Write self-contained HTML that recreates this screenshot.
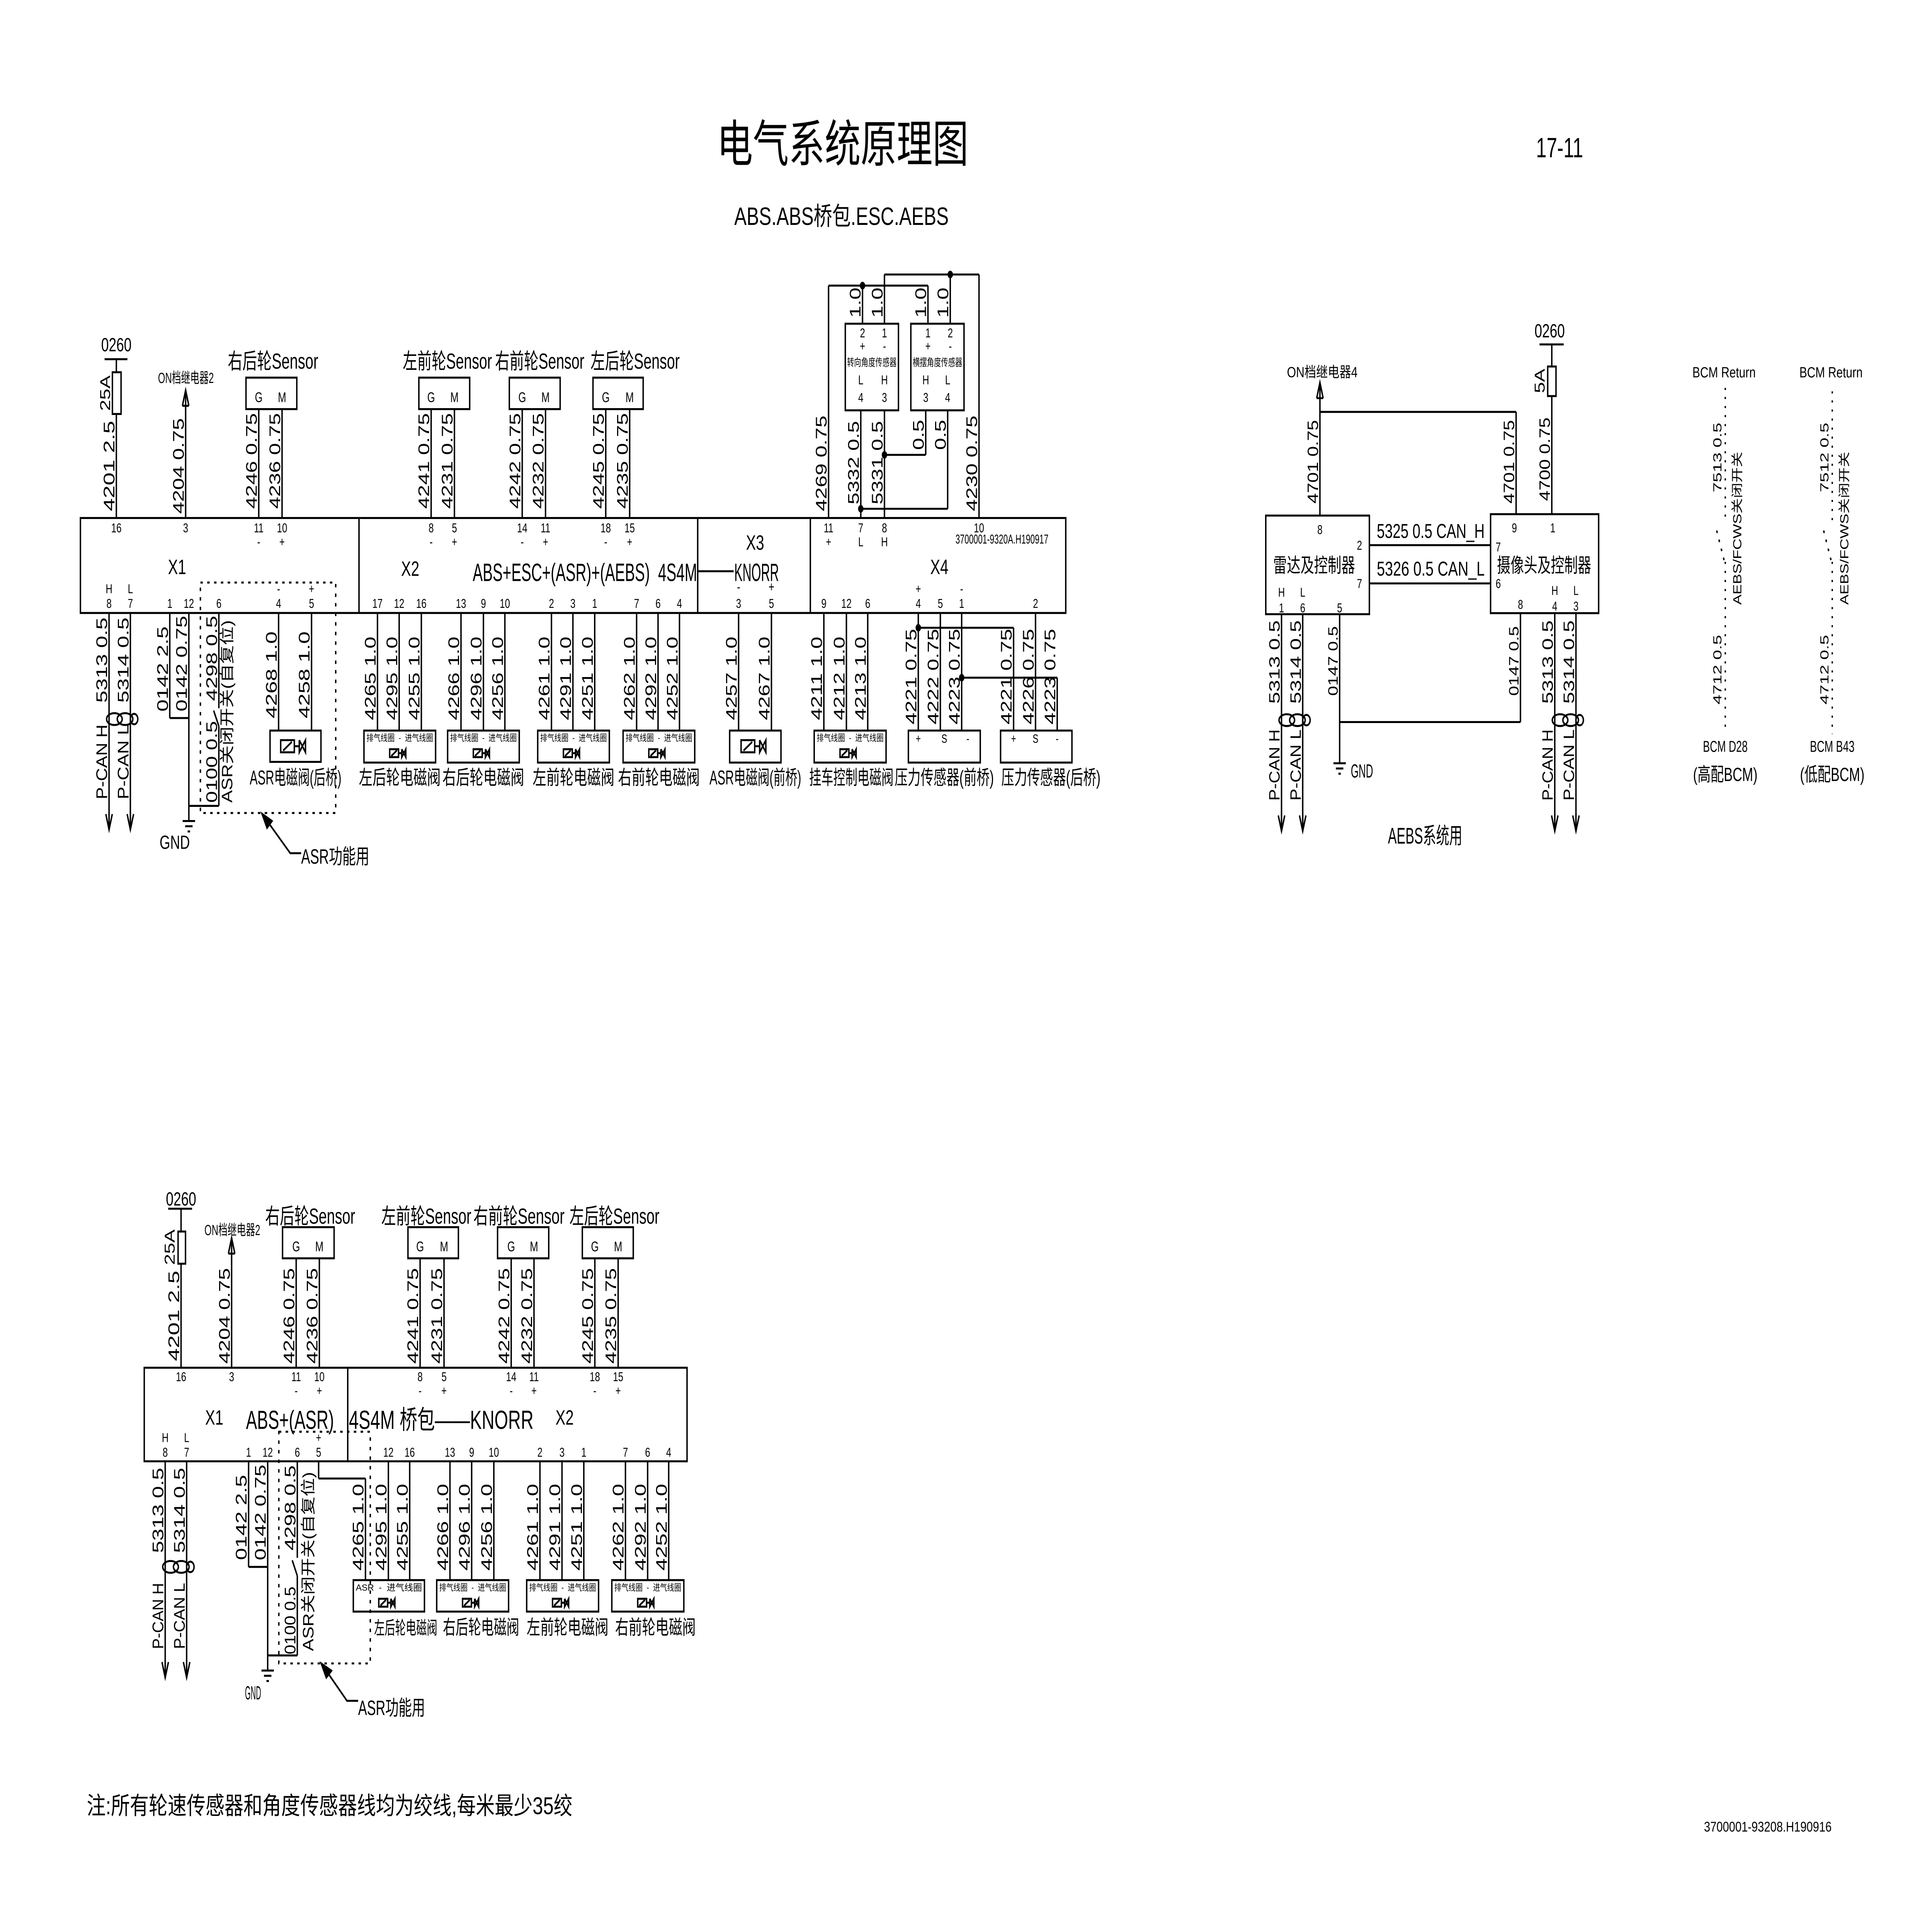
<!DOCTYPE html>
<html><head><meta charset="utf-8">
<style>
html,body{margin:0;padding:0;background:#fff;width:100%;height:100%;overflow:hidden;}
svg{display:block;position:fixed;left:0;top:0;width:100%;height:100%;}
text{font-family:"Liberation Sans","Noto Sans CJK SC",sans-serif;fill:#000;}
</style></head>
<body>
<svg id="s" xmlns="http://www.w3.org/2000/svg" viewBox="0 0 1559 1101.5" preserveAspectRatio="none"></svg>
<script>
var o=[];
function L(x1,y1,x2,y2){o.push('<line x1="'+x1+'" y1="'+y1+'" x2="'+x2+'" y2="'+y2+'"/>');}
function P(pts){o.push('<polyline fill="none" points="'+pts+'"/>');}
function R(x,y,w,h){o.push('<rect x="'+x+'" y="'+y+'" width="'+w+'" height="'+h+'" fill="#fff"/>');}
function T(x,y,s,sz,a,tl){o.push('<text x="'+x+'" y="'+y+'" font-size="'+(sz||8)+'" text-anchor="'+(a||'middle')+'" stroke="none"'+(tl?' textLength="'+tl+'" lengthAdjust="spacingAndGlyphs"':'')+'>'+s+'</text>');}
function V(x,yc,s,sz,tl){o.push('<text transform="translate('+(x-1.6)+','+yc+') rotate(-90)" font-size="'+(sz||12)+'" text-anchor="middle" stroke="none"'+(tl?' textLength="'+tl+'" lengthAdjust="spacingAndGlyphs"':'')+'>'+s+'</text>');}
function D(x,y){o.push('<circle cx="'+x+'" cy="'+y+'" r="1.6" fill="#000"/>');}
function dn(x,y){L(x,y-10,x,y);P((x-2.6)+','+(y-9)+' '+x+','+y+' '+(x+2.6)+','+(y-9));}
function up(x,y){P((x-2.6)+','+(y+9)+' '+x+','+y+' '+(x+2.6)+','+(y+9));L(x-2.6,y+9,x+2.6,y+9);}
function gnd(x,y){L(x-5,y,x+5,y);L(x-3,y+3,x+3,y+3);L(x-1,y+6,x+1,y+6);}
function twist(x1,x2,y){var c=(x1+x2)/2;o.push('<ellipse cx="'+(x1+ (c-x1)/2)+'" cy="'+y+'" rx="'+((c-x1)/2+2)+'" ry="3.4" fill="none"/>');o.push('<ellipse cx="'+(c+(x2-c)/2)+'" cy="'+y+'" rx="'+((x2-c)/2+2)+'" ry="3.4" fill="none"/>');o.push('<ellipse cx="'+(x2+3)+'" cy="'+y+'" rx="3" ry="3" fill="none"/>');}
function valve(cx,cy,k){k=k||1;var w=11*k,h=7*k;o.push('<rect x="'+(cx-w)+'" y="'+(cy-h/2)+'" width="'+w+'" height="'+h+'" fill="none"/>');L(cx-w+2*k,cy+h/2-1*k,cx-2*k,cy-h/2+1*k);L(cx,cy,cx+4*k,cy);P((cx+4*k)+','+(cy-h/2)+' '+(cx+9*k)+','+(cy+h/2)+' '+(cx+9*k)+','+(cy-h/2)+' '+(cx+4*k)+','+(cy+h/2)+' '+(cx+4*k)+','+(cy-h/2));}
function vbox(x1,x2,y1,y2,lbl,txt){R(x1,y1,x2-x1,y2-y1);T((x1+x2)/2,y1+6,txt||'排气线圈 &#160;-&#160; 进气线圈',5.2,'middle',(x2-x1)-4);valve((x1+x2)/2-1,y1+13,0.65);}
function sensor(x1,x2,y1,y2,xg,xm){R(x1,y1,x2-x1,y2-y1);T(xg,y2-4,'G',8);T(xm,y2-4,'M',8);}
o.push('<g stroke="#000" stroke-width="1.15" fill="none">');

T(680,93,'电气系统原理图',29,'middle',203);
T(1258.5,90.4,'17-11',16,'middle',38);
T(679,129.3,'ABS.ABS桥包.ESC.AEBS',14.5,'middle',173);

R(64.9,297.8,795.1,54.6);
L(289.7,297.8,289.7,352.4);L(563,297.8,563,352.4);L(653.9,297.8,653.9,352.4);
T(142.9,330,'X1',12);T(331,331,'X2',12);
T(472,334,'ABS+ESC+(ASR)+(AEBS) &#160;4S4M',14.5,'middle',181);
L(563,328.4,592,328.4);T(610.5,334,'KNORR',14.5,'middle',36);
T(609.3,316,'X3',12);T(596,340,'-',8);T(622.5,340,'+',8);
T(758,330,'X4',12);
T(808.5,312.5,'3700001-9320A.H190917',7.5,'middle',75);
[[93.9,'16',''],[149.8,'3',''],[208.8,'11','-'],[227.6,'10','+'],[347.9,'8','-'],[366.7,'5','+'],[421.4,'14','-'],[440.2,'11','+'],[488.8,'18','-'],[508.1,'15','+'],[668.6,'11','+'],[694.6,'7','L'],[713.7,'8','H'],[790,'10','']].forEach(function(p){T(p[0],306,p[1],7.5);if(p[2])T(p[0],314,p[2],7.5);});
[[88,'8','H'],[105.2,'7','L'],[137,'1',''],[152.4,'12',''],[176.6,'6',''],[224.8,'4','-'],[251.4,'5','+'],[304.6,'17',''],[322.1,'12',''],[340,'16',''],[372,'13',''],[390.1,'9',''],[407.4,'10',''],[445,'2',''],[462.3,'3',''],[479.9,'1',''],[513.7,'7',''],[531,'6',''],[548.3,'4',''],[596,'3',''],[622.5,'5',''],[664.8,'9',''],[683,'12',''],[700.2,'6',''],[741,'4','+'],[758.8,'5',''],[776,'1','-'],[835.6,'2','']].forEach(function(p){T(p[0],349.5,p[1],7.5);if(p[2])T(p[0],341,p[2],7.5);});

T(93.9,202,'0260',11);L(84.4,206.5,102.8,206.5);L(93.9,206.5,93.9,297.8);R(90.7,214,7,24);
V(90.5,226,'25A',11.5);V(93.9,267.9,'4201 2.5',12.5,52);
L(149.8,224.3,149.8,297.8);up(149.8,224.3);T(150,220.2,'ON档继电器2',8.5,'middle',45);V(149.8,267.9,'4204 0.75',12.5,55);
sensor(198.5,239.5,217.1,235.2,208.8,227.6);T(220.3,212,'右后轮Sensor',12.5,'middle',73);
L(208.8,235.2,208.8,297.8);L(227.6,235.2,227.6,297.8);V(208.8,265,'4246 0.75',12.5,55);V(227.6,265,'4236 0.75',12.5,55);
sensor(338,379,217.1,235.2,347.9,366.7);L(347.9,235.2,347.9,297.8);L(366.7,235.2,366.7,297.8);V(347.9,265,'4241 0.75',12.5,55);V(366.7,265,'4231 0.75',12.5,55);
sensor(411,452,217.1,235.2,421.4,440.2);L(421.4,235.2,421.4,297.8);L(440.2,235.2,440.2,297.8);V(421.4,265,'4242 0.75',12.5,55);V(440.2,265,'4232 0.75',12.5,55);
sensor(478.5,519,217.1,235.2,488.8,508.1);L(488.8,235.2,488.8,297.8);L(508.1,235.2,508.1,297.8);V(488.8,265,'4245 0.75',12.5,55);V(508.1,265,'4235 0.75',12.5,55);
T(361,212,'左前轮Sensor',12.5,'middle',72);T(435.5,212,'右前轮Sensor',12.5,'middle',72);T(512.5,212,'左后轮Sensor',12.5,'middle',72);
L(668.6,164.2,668.6,297.8);L(668.6,164.2,748.8,164.2);D(696,164.2);L(696,164.2,696,186.1);L(748.8,164.2,748.8,186.1);
L(713.7,157.8,713.7,186.1);L(713.7,235.9,713.7,297.8);L(713.7,157.8,790,157.8);D(766.8,157.8);L(766.8,157.8,766.8,186.1);L(790,157.8,790,297.8);
L(694.6,235.9,694.6,297.8);L(694.6,292.5,764.7,292.5);D(694.6,292.5);L(764.7,235.9,764.7,292.5);
L(747,235.9,747,261.5);L(747,261.5,713.7,261.5);D(713.7,261.5);
R(682.1,186.1,42.9,49.8);R(735,186.1,42.9,49.8);
T(696,194,'2',7.5);T(713.7,194,'1',7.5);T(696,201.5,'+',7.5);T(713.7,201.5,'-',7.5);T(703.5,210.5,'转向角度传感器',6,'middle',40);T(694.6,221,'L',7.5);T(713.7,221,'H',7.5);T(694.6,231,'4',7.5);T(713.7,231,'3',7.5);
T(748.8,194,'1',7.5);T(766.8,194,'2',7.5);T(748.8,201.5,'+',7.5);T(766.8,201.5,'-',7.5);T(756.5,210.5,'横摆角度传感器',6,'middle',40);T(747,221,'H',7.5);T(764.7,221,'L',7.5);T(747,231,'3',7.5);T(764.7,231,'4',7.5);
V(696,174,'1.0',12.5);V(713.7,174,'1.0',12.5);V(748.8,174,'1.0',12.5);V(766.8,174,'1.0',12.5);
V(747,250,'0.5',12.5);V(764.7,250,'0.5',12.5);
V(668.6,266.4,'4269 0.75',12.5,55);V(694.6,266,'5332 0.5',12.5,48);V(713.7,266,'5331 0.5',12.5,48);V(790,266.4,'4230 0.75',12.5,55);

L(88,352.4,88,477);L(105.2,352.4,105.2,477);dn(88,477);dn(105.2,477);twist(88,105.2,413.4);
V(88,379.5,'5313 0.5',12.5,49);V(105.2,379.5,'5314 0.5',12.5,49);V(88,438,'P-CAN H',12.5,43);V(105.2,438,'P-CAN L',12.5,43);
L(137,352.4,137,412.8);L(137,412.8,152.4,412.8);L(152.4,352.4,152.4,472);L(152.4,463.3,176.6,463.3);gnd(152.4,472);T(141,488,'GND',11);
V(137,384.6,'0142 2.5',12.5,49);V(152.4,381.5,'0142 0.75',12.5,55);
L(176.6,352.4,176.6,407.2);L(176.6,417.5,176.6,463.3);L(176.6,417.5,172.4,408.5);
V(176.6,378.5,'4298 0.5',12.5,49);V(176.6,438,'0100 0.5',12.5,47);
V(189,409,'ASR关闭开关(自复位)',12,105);
L(224.8,352.4,224.8,420);L(251.4,352.4,251.4,420);R(217.9,420,41.1,18);valve(237.5,429,1);
V(224.8,388,'4268 1.0',12.5,50);V(251.4,388,'4258 1.0',12.5,50);
T(238.5,451,'ASR电磁阀(后桥)',11.5,'middle',74);
o.push('<rect x="161.7" y="334.9" width="109.2" height="132.5" stroke-dasharray="2,3.5" fill="none"/>');
P('211.4,467.8 234.2,490.5 243,490.5');o.push('<polygon points="211.4,467.8 219.5,472 215.5,476" fill="#000"/>');
T(243,496.5,'ASR功能用',12,'start',55);
function grp(xs,b1,b2,lbl,lx,labs){xs.forEach(function(x,i){L(x,352.4,x,420);V(x,390,labs[i],12.5,48);});vbox(b1,b2,420,438.4);T(lx,451,lbl,11.5,'middle',66);}
grp([304.6,322.1,340],293.7,351.5,'左后轮电磁阀',322.6,['4265 1.0','4295 1.0','4255 1.0']);
grp([372,390.1,407.4],361.2,419,'右后轮电磁阀',390,['4266 1.0','4296 1.0','4256 1.0']);
grp([445,462.3,479.9],433.9,491.7,'左前轮电磁阀',462.8,['4261 1.0','4291 1.0','4251 1.0']);
grp([513.7,531,548.3],502.8,560.6,'右前轮电磁阀',531.7,['4262 1.0','4292 1.0','4252 1.0']);
L(596,352.4,596,420);L(622.5,352.4,622.5,420);V(596,390,'4257 1.0',12.5,48);V(622.5,390,'4267 1.0',12.5,48);
R(588.8,420,41.4,18.4);valve(609,429,1);T(609.5,451,'ASR电磁阀(前桥)',11.5,'middle',74);
[664.8,683,700.2].forEach(function(x,i){L(x,352.4,x,420);V(x,390,['4211 1.0','4212 1.0','4213 1.0'][i],12.5,48);});
vbox(657,715,420,438.4);T(687,451,'挂车控制电磁阀',11.5,'middle',68);
L(741,352.4,741,420);D(741,360.9);L(741,360.9,817.9,360.9);L(817.9,360.9,817.9,420);
L(758.8,352.4,758.8,420);
L(776,352.4,776,420);D(776,389.6);L(776,389.6,853.1,389.6);L(853.1,389.6,853.1,420);
L(835.6,352.4,835.6,420);
V(741,389,'4221 0.75',12.5,55);V(758.8,389,'4222 0.75',12.5,55);V(776,389,'4223 0.75',12.5,55);
V(817.9,389,'4221 0.75',12.5,55);V(835.6,389,'4226 0.75',12.5,55);V(853.1,389,'4223 0.75',12.5,55);
R(733,420,58,18.4);T(741,427,'+',7);T(762,427,'S',7);T(781,427,'-',7);T(762,451,'压力传感器(前桥)',11.5,'middle',80);
R(807.4,420,57.6,18.4);T(817.9,427,'+',7);T(835.6,427,'S',7);T(853.1,427,'-',7);T(848,451,'压力传感器(后桥)',11.5,'middle',80);

R(1021.4,296.4,83.6,56.7);R(1202.8,295.6,87.2,56.9);
L(1105,313.4,1202.8,313.4);L(1105,335.4,1202.8,335.4);
T(1111,309.3,'5325 0.5 CAN_H',11.5,'start',87);T(1111,330.9,'5326 0.5 CAN_L',11.5,'start',87);
T(1060.4,329,'雷达及控制器',11.5,'middle',66);T(1246,329,'摄像头及控制器',11.5,'middle',76);
T(1065.1,307,'8',7.5);T(1097,316,'2',7.5);T(1097,338,'7',7.5);T(1034.1,343,'H',7.5);T(1051.2,343,'L',7.5);T(1034.1,352,'1',7.5);T(1051.2,352,'6',7.5);T(1081,352,'5',7.5);
T(1222,306,'9',7.5);T(1253,306,'1',7.5);T(1209,317,'7',7.5);T(1209,338,'6',7.5);T(1226.9,350,'8',7.5);T(1254.6,342,'H',7.5);T(1271.7,342,'L',7.5);T(1254.6,351,'4',7.5);T(1271.7,351,'3',7.5);
L(1065.1,219.9,1065.1,296.4);up(1065.1,219.9);T(1067,216.8,'ON档继电器4',8.5,'middle',57);
L(1065.1,236.8,1223.4,236.8);L(1223.4,236.8,1223.4,295.6);
V(1065.1,265.5,'4701 0.75',12,48);V(1223.4,265.5,'4701 0.75',12,48);
T(1250.5,194,'0260',11);L(1242.3,198,1261.8,198);L(1252.2,198,1252.2,295.6);R(1248.9,210.7,6.7,17);V(1248,219,'5A',11.5);V(1252.2,264,'4700 0.75',12,48);
L(1034.1,353.1,1034.1,477.8);L(1051.2,353.1,1051.2,477.8);dn(1034.1,477.8);dn(1051.2,477.8);twist(1034.1,1051.2,414);
V(1034.1,380.6,'5313 0.5',12,48);V(1051.2,380.6,'5314 0.5',12,48);V(1034.1,439.8,'P-CAN H',12,41);V(1051.2,439.8,'P-CAN L',12,41);
L(1081,353.1,1081,438.8);gnd(1081,438.8);T(1090,447,'GND',11,'start',18);V(1081,380,'0147 0.5',11,40);
L(1081,415.1,1226.9,415.1);L(1226.9,352.5,1226.9,415.1);V(1226.9,380,'0147 0.5',11,40);
L(1254.6,352.5,1254.6,477.8);L(1271.7,352.5,1271.7,477.8);dn(1254.6,477.8);dn(1271.7,477.8);twist(1254.6,1271.7,414);
V(1254.6,380.6,'5313 0.5',12,48);V(1271.7,380.6,'5314 0.5',12,48);V(1254.6,439.8,'P-CAN H',12,41);V(1271.7,439.8,'P-CAN L',12,41);
T(1150,485,'AEBS系统用',13,'middle',60);

function bcm(x,top,txt1,txt2,l1,l2){
 T(x-1,217,'BCM Return',8.5,'middle',51);
 o.push('<line x1="'+x+'" y1="'+top+'" x2="'+x+'" y2="300" stroke-dasharray="1.2,4"/>');
 o.push('<line x1="'+x+'" y1="323" x2="'+x+'" y2="'+(top+197)+'" stroke-dasharray="1.2,4"/>');
 o.push('<line x1="'+(x-1)+'" y1="322" x2="'+(x-8)+'" y2="302" stroke-dasharray="1.5,4"/>');
 V(x-1.5,263,l1,9.5,40);V(x-1.5,385,'4712 0.5',9.5,40);
 o.push('<text transform="translate('+(x+13)+',303.7) rotate(-90)" font-size="9.5" text-anchor="middle" stroke="none" textLength="88" lengthAdjust="spacingAndGlyphs">AEBS/FCWS关闭开关</text>');
 T(x,432.2,txt1,9,'middle',36);T(x,449,txt2,11,'middle',52);
}
bcm(1392.2,223,'BCM D28','(高配BCM)','7513 0.5');
bcm(1478.5,225,'BCM B43','(低配BCM)','7512 0.5');

R(116.4,786.3,438,53.8);L(280.6,786.3,280.6,840.1);
T(172.9,819,'X1',12);T(234,821.5,'ABS+(ASR)',15,'middle',71);T(281.5,821.5,'4S4M 桥包——KNORR',15,'start',149);T(455.6,819,'X2',12);
[[146.1,'16',''],[186.9,'3',''],[239,'11','-'],[257.7,'10','+'],[339,'8','-'],[358.3,'5','+'],[412.5,'14','-'],[430.9,'11','+'],[480,'18','-'],[498.8,'15','+']].forEach(function(p){T(p[0],794,p[1],7.5);if(p[2])T(p[0],802,p[2],7.5);});
[[133.3,'8','H'],[150.6,'7','L'],[200.6,'1',''],[216,'12',''],[239.9,'6',''],[257.1,'5','+'],[313.4,'12',''],[330.6,'16',''],[363.1,'13',''],[380.6,'9',''],[398.5,'10',''],[435.7,'2',''],[453.5,'3',''],[471.1,'1',''],[504.7,'7',''],[522.6,'6',''],[539.6,'4','']].forEach(function(p){T(p[0],837.5,p[1],7.5);if(p[2])T(p[0],829,p[2],7.5);});
T(146.1,693,'0260',11);L(135.7,694.9,155,694.9);L(146.1,694.9,146.1,786.3);R(143.7,708,6,18.5);V(142.5,717,'25A',11.5);V(146.1,756.5,'4201 2.5',12.5,52);
L(186.9,711.7,186.9,786.3);up(186.9,711.7);T(187.5,710,'ON档继电器2',8.5,'middle',45);V(186.9,756.5,'4204 0.75',12.5,55);
sensor(228,269.6,705.5,723.4,239,257.7);L(239,723.4,239,786.3);L(257.7,723.4,257.7,786.3);V(239,756.5,'4246 0.75',12.5,55);V(257.7,756.5,'4236 0.75',12.5,55);
sensor(329.2,369.9,705.5,723.4,339,358.3);L(339,723.4,339,786.3);L(358.3,723.4,358.3,786.3);V(339,756.5,'4241 0.75',12.5,55);V(358.3,756.5,'4231 0.75',12.5,55);
sensor(401.5,442.8,705.5,723.4,412.5,430.9);L(412.5,723.4,412.5,786.3);L(430.9,723.4,430.9,786.3);V(412.5,756.5,'4242 0.75',12.5,55);V(430.9,756.5,'4232 0.75',12.5,55);
sensor(469.9,511,705.5,723.4,480,498.8);L(480,723.4,480,786.3);L(498.8,723.4,498.8,786.3);V(480,756.5,'4245 0.75',12.5,55);V(498.8,756.5,'4235 0.75',12.5,55);
T(250.3,703.5,'右后轮Sensor',12.5,'middle',72.6);T(344,703.5,'左前轮Sensor',12.5,'middle',72.6);T(418.8,703.5,'右前轮Sensor',12.5,'middle',73.6);T(495.8,703.5,'左后轮Sensor',12.5,'middle',72.6);
L(133.3,840.1,133.3,964.5);L(150.6,840.1,150.6,964.5);dn(133.3,964.5);dn(150.6,964.5);twist(133.3,150.6,900.8);
V(133.3,868.3,'5313 0.5',12.5,49);V(150.6,868.3,'5314 0.5',12.5,49);V(133.3,929,'P-CAN H',12.5,38);V(150.6,929,'P-CAN L',12.5,38);
L(200.6,840.1,200.6,900.8);L(200.6,900.8,216,900.8);L(216,840.1,216,960.4);L(216,951.7,239.9,951.7);gnd(216,960.4);T(204.2,977,'GND',11,'middle',13);
V(200.6,872.4,'0142 2.5',12.5,49);V(216,869.5,'0142 0.75',12.5,55);
L(239.9,840.1,239.9,895.6);L(239.9,905.9,239.9,951.7);L(239.9,905.9,235.8,897);
V(239.9,866.9,'4298 0.5',12.5,49);V(239.9,931.6,'0100 0.5',12.5,39);V(254.5,897.7,'ASR关闭开关(自复位)',12,103);
L(257.1,840.1,257.1,850);L(257.1,850,294.9,850);L(294.9,850,294.9,908.4);
L(313.4,840.1,313.4,908.4);L(330.6,840.1,330.6,908.4);
V(294.9,878,'4265 1.0',12.5,50);V(313.4,878,'4295 1.0',12.5,50);V(330.6,878,'4255 1.0',12.5,50);
[[363.1,'4266 1.0'],[380.6,'4296 1.0'],[398.5,'4256 1.0'],[435.7,'4261 1.0'],[453.5,'4291 1.0'],[471.1,'4251 1.0'],[504.7,'4262 1.0'],[522.6,'4292 1.0'],[539.6,'4252 1.0']].forEach(function(p){L(p[0],840.1,p[0],908.4);V(p[0],878,p[1],12.5,50);});
vbox(285.1,342.5,908.4,926.5,'','ASR &#160;-&#160; 进气线圈');vbox(352.4,410.4,908.4,926.5);vbox(425,483,908.4,926.5);vbox(493.7,551.8,908.4,926.5);
T(327.4,939.5,'左后轮电磁阀',10.5,'middle',51);T(388.2,939.5,'右后轮电磁阀',11.5,'middle',61.6);T(458,939.5,'左前轮电磁阀',11.5,'middle',66);T(528.9,939.5,'右前轮电磁阀',11.5,'middle',65);
o.push('<rect x="225" y="823.1" width="73.8" height="133.2" stroke-dasharray="2,3.5" fill="none"/>');
P('259.2,956.3 280,977.8 289,977.8');o.push('<polygon points="259.2,956.3 267.5,960.5 263.3,964.5" fill="#000"/>');
T(289,986,'ASR功能用',12,'start',54);

T(70,1043,'注:所有轮速传感器和角度传感器线均为绞线,每米最少35绞',14,'start',392);
T(1375,1053,'3700001-93208.H190916',8,'start',103);

o.push('</g>');
document.getElementById('s').innerHTML=o.join('');
</script>
</body></html>
